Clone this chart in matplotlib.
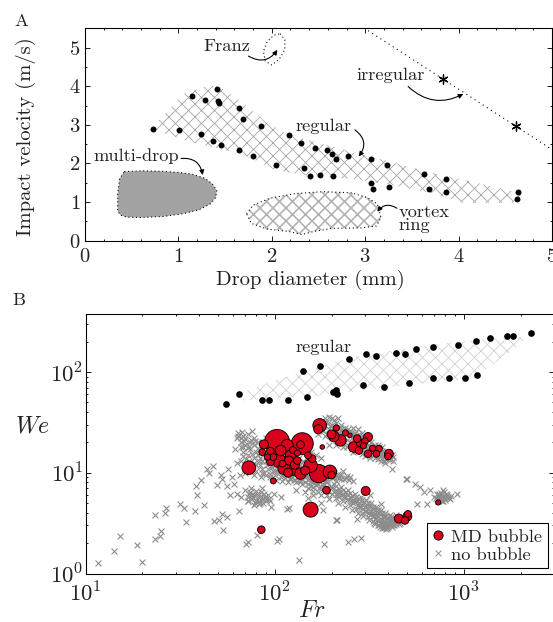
import numpy as np
import matplotlib
matplotlib.use('Agg')
import matplotlib.pyplot as plt
from matplotlib.patches import Polygon
from matplotlib.ticker import AutoMinorLocator, MultipleLocator

plt.rcParams['font.family'] = 'serif'
plt.rcParams['font.serif'] = ['cmr10']
plt.rcParams['mathtext.fontset'] = 'cm'
plt.rcParams['axes.formatter.use_mathtext'] = True

DPI = 78

# ---------------- panel A data (drop diameter mm, impact velocity m/s)
reg_d = [0.73, 1.01, 1.15, 1.24, 1.28, 1.37, 1.41, 1.42, 1.44, 1.46, 1.65, 1.65, 1.69, 1.80, 1.88,
         2.05, 2.18, 2.31, 2.35, 2.41, 2.46, 2.52, 2.59, 2.64, 2.65, 2.69, 2.82, 3.06, 3.06, 3.08,
         3.23, 3.25, 3.63, 3.68, 3.87, 3.87, 4.62, 4.64]
reg_v = [2.90, 2.86, 3.75, 2.75, 3.65, 2.59, 3.93, 3.61, 3.57, 2.49, 3.44, 2.35, 3.16, 2.19, 2.98,
         1.95, 2.74, 2.53, 1.88, 1.67, 2.40, 1.70, 2.34, 2.25, 1.67, 2.12, 2.19, 2.12, 1.49, 1.33,
         1.97, 1.39, 1.73, 1.33, 1.61, 1.25, 1.09, 1.27]

irr_d = [3.83, 4.61]
irr_v = [4.19, 2.97]

band_a_d = [0.72, 1.05, 1.33, 1.45, 1.66, 1.95, 2.19, 2.73, 3.23, 3.69, 4.19, 4.68,
            4.58, 4.05, 3.73, 3.27, 2.87, 2.40, 2.05, 1.68, 1.40, 1.10, 0.85]
band_a_v = [2.92, 3.80, 4.02, 3.98, 3.62, 3.05, 2.74, 2.38, 2.07, 1.77, 1.50, 1.22,
            0.98, 0.98, 1.22, 1.45, 1.60, 1.68, 1.82, 2.25, 2.40, 2.58, 2.78]

md_d = [0.42, 0.60, 0.80, 1.00, 1.15, 1.28, 1.36, 1.41, 1.40, 1.34, 1.22, 1.05, 0.85, 0.60,
        0.45, 0.38, 0.35, 0.35, 0.37]
md_v = [1.79, 1.81, 1.80, 1.77, 1.72, 1.62, 1.48, 1.30, 1.12, 0.95, 0.80, 0.70, 0.63, 0.60,
        0.61, 0.66, 0.78, 1.20, 1.60]

vr_d = [1.73, 1.80, 1.98, 2.25, 2.55, 2.85, 3.02, 3.13, 3.17, 3.12, 2.95, 2.65, 2.45, 2.32,
        2.18, 1.95, 1.78]
vr_v = [0.70, 0.92, 1.10, 1.22, 1.27, 1.24, 1.12, 0.95, 0.60, 0.38, 0.33, 0.32, 0.24, 0.16,
        0.24, 0.30, 0.45]

franz_d = [2.09, 2.14, 2.14, 2.08, 2.00, 1.93, 1.91, 1.95, 2.02]
franz_v = [5.36, 5.20, 4.95, 4.70, 4.55, 4.65, 4.90, 5.15, 5.32]

# ---------------- panel B data (Fr, We)
regB_fr = [55.6, 64.9, 85.3, 93.9, 117.8, 141.6, 148.5, 173.3, 204, 212, 214.8, 247.5, 295, 304,
           344, 378, 436, 490, 513, 557, 688, 688, 833, 927, 1011, 1160, 1169, 1384, 1685, 1818, 2255]
regB_we = [48.4, 59.9, 53.2, 53.2, 53.2, 101.4, 56, 113.6, 63.3, 66.7, 60.9, 133.4, 73.6, 149.7,
           142.9, 71, 155.6, 152, 77.8, 167.6, 177, 87.2, 87.2, 186.6, 87.2, 204.6, 93.4, 217.6,
           225.7, 225.7, 243.8]

band_b_fr = [68, 72, 93, 142, 260, 611, 1290, 2170, 1720, 1118, 496, 170]
band_b_we = [52, 66, 78, 102, 140, 182, 212, 224, 152, 86, 74, 58]

# MD bubble: Fr, We, bubble radius (px)
md_fr = [103, 87.8, 140, 137, 73, 98.4, 155, 85, 188, 303, 733, 454, 503, 489, 507,
         95, 107.6, 91.5, 98.4, 116.6, 121.5, 119, 131.8, 105.4, 112, 124, 131.8, 137, 155,
         158, 150, 171, 196, 200, 95, 110, 128, 145, 118, 125, 86,
         173, 170, 212, 205.6, 223, 200, 237, 250, 273, 312, 262, 283, 295, 279, 312, 345,
         356, 402, 398, 330, 178.6, 300]
md_we = [20.2, 19.1, 19.4, 19.0, 11.2, 8.3, 4.3, 2.72, 6.7, 6.6, 5.07, 3.5, 3.68, 3.36, 3.9,
         16.4, 16.6, 14.3, 14.3, 18.7, 14.9, 13.2, 15.7, 13.2, 11.0, 11.0, 13.2, 9.8, 11.8,
         13.8, 14.9, 9.8, 10.2, 9.5, 12.8, 12.3, 12.0, 10.5, 10.0, 16.8, 16.0,
         29.5, 27.0, 27.8, 22.9, 20.9, 24.0, 24.8, 23.5, 21.8, 22.6, 18.0, 19.7, 18.5, 16.6,
         15.4, 15.4, 17.3, 15.4, 14.5, 17.5, 18.0, 20.5]
md_r = [12.5, 4.5, 11, 3.8, 6.8, 3, 7.5, 3.8, 3.8, 4.5, 2.6, 4.5, 4.5, 3.8, 3.4,
        3.8, 5.3, 3.1, 3.4, 6, 5.3, 4.5, 3.1, 6.8, 6, 6.8, 3.8, 5.7, 6.8,
        3.8, 3.4, 9.2, 6.8, 3.8, 3.8, 3.4, 4.5, 4.5, 4.5, 3.4, 3.4,
        6.8, 4.5, 3.1, 5.3, 5.7, 4.5, 3.1, 2.3, 3.8, 4.5, 5.3, 3.8, 3.1, 3.8,
        3.8, 3.4, 3.4, 4.5, 3.4, 3.1, 2.3, 3.4]

# no bubble
nob_sparse = [(11.7, 1.28), (14.2, 1.69), (15.2, 2.35), (18.8, 1.9), (19.8, 1.3), (23.2, 3.77),
              (23.2, 2.21), (24.8, 2.33), (25.2, 2.63), (26.2, 4.0), (26.6, 4.5), (31.6, 4.9),
              (33.2, 4.5), (33.9, 3.24), (37.9, 4.13), (38.3, 7.4), (39.1, 5.96), (41, 8.5),
              (42.4, 4.8), (43.8, 11), (45, 10), (47.5, 11.7), (47.8, 3.3), (49.8, 7.5),
              (50.8, 3.36), (52, 9.6), (53, 3.92), (53.6, 2.72), (53, 8.7), (55.7, 3.63),
              (56.2, 7.4), (57, 11), (58, 6.05), (59.8, 9.1), (61, 7.8), (63.5, 12.5), (63.5, 6.2),
              (64.8, 4.2), (65.5, 9.5), (66, 5.7), (70.8, 1.97), (72, 2.05), (72, 5.3), (81, 2.42),
              (82.6, 4.9), (86, 7.0), (95, 5.3), (95.4, 4.56), (99, 6.2), (103, 2.1), (105, 2.18),
              (107.6, 5.7), (116.6, 4.4), (119, 4.46), (134.5, 1.35), (130, 6.8), (145, 6.5),
              (150, 5.6), (160, 6.0), (175, 5.0), (180, 4.3), (183, 1.97), (210, 3.4), (214, 3.36),
              (244, 2.06), (262, 2.2), (285, 2.25), (274, 3.5), (320, 5.95), (363, 4.9), (380, 3.6),
              (410, 3.6), (394, 13.8), (417, 11), (496, 8.7), (503, 8.7), (555, 7.8), (567, 4.9),
              (590, 7.2), (614, 6.4), (640, 4.9), (665, 6.7), (780, 6.7), (925, 6.2)]
nob_left = [(64, 25), (68, 23), (72, 24), (75, 21), (66, 20), (70, 19), (78, 19), (82, 20), (85, 18),
            (74, 17), (80, 16), (88, 16), (92, 17), (95, 15), (68, 16), (72, 15), (78, 14), (84, 14),
            (90, 13), (96, 13), (100, 12), (104, 13), (110, 12), (115, 11), (120, 11.5), (125, 10.5),
            (130, 10), (135, 10.5), (140, 9.5), (145, 9.8), (150, 9.2), (160, 9), (170, 8.8),
            (180, 9.2), (190, 8.5), (200, 8.8), (210, 8.2), (66, 13), (70, 12), (75, 11.5), (80, 12),
            (86, 11), (92, 11), (98, 10.5), (105, 10), (112, 10), (118, 9.5), (124, 9), (132, 9),
            (140, 8.6), (100, 18), (105, 16), (110, 17), (115, 15), (120, 16), (128, 15), (135, 14),
            (142, 13), (150, 12.5), (158, 12), (165, 11.5), (175, 11), (185, 10.8), (195, 10.5),
            (205, 10), (215, 9.7), (225, 9.5), (240, 9.2), (250, 9), (230, 10.5), (120, 20),
            (130, 18), (140, 17), (155, 16), (165, 15), (175, 14), (90, 22), (100, 21), (110, 19),
            (62, 17), (63, 22), (67, 25.5), (76, 26), (70, 10), (78, 9.5), (85, 9), (94, 9),
            (102, 8.5), (110, 8.3), (118, 8),
            (66, 22), (70, 21.5), (74, 20), (78, 22), (82, 17.5), (86, 20), (90, 18.5), (94, 19),
            (98, 16.5), (102, 15), (106, 14), (112, 14.5), (118, 13.5), (124, 13), (130, 12.5),
            (136, 12), (144, 11.5), (152, 11), (160, 10.5), (168, 10), (176, 9.8), (186, 9.6),
            (196, 9.3), (206, 9.1), (218, 8.9), (232, 8.6), (246, 8.4), (260, 8.2), (68, 18),
            (72, 17.5), (76, 15.5), (82, 15), (86, 13), (92, 14.5), (98, 12), (104, 11), (110, 10.8),
            (116, 10.5), (122, 10), (128, 9.5), (136, 9.2), (144, 9), (152, 8.6), (162, 8.4),
            (172, 8.2), (68, 14.5), (73, 13), (78, 12.5), (84, 12), (88, 10), (95, 9.8), (100, 9.5),
            (108, 9), (114, 8.8), (120, 8.6), (126, 8.4), (135, 8.2), (145, 8.0), (74, 10.5),
            (80, 10.5), (86, 10), (90, 9.5),
            (64, 23), (66, 18), (69, 20.5), (71, 13.8), (73, 18.5), (77, 12), (79, 20.5), (83, 13),
            (87, 15), (91, 12), (93, 15.5), (97, 11.5), (101, 10.3), (107, 11.5), (113, 9.6),
            (117, 12.3), (123, 11.4), (127, 10.2), (133, 11), (139, 10.2), (147, 10.4), (155, 10),
            (163, 9.6), (173, 9.4), (183, 9.9), (193, 9.7), (203, 9.5), (213, 9.0), (223, 8.6),
            (238, 8.9)]
nob_right = [(165, 30), (175, 32), (185, 35), (195, 36), (205, 33), (215, 35), (225, 30), (210, 28),
             (195, 27), (180, 26), (170, 24), (185, 23), (200, 22), (215, 24), (230, 26), (245, 27),
             (260, 28), (275, 27), (290, 25), (300, 22), (285, 21), (270, 20), (255, 22), (240, 21),
             (225, 20), (210, 19), (195, 19), (240, 18), (255, 17), (270, 16.5), (285, 17), (300, 18),
             (315, 19), (330, 17), (345, 16), (360, 17), (375, 15), (390, 14), (405, 13.5), (320, 15),
             (340, 14), (360, 14.5), (380, 13), (300, 14.5), (310, 16), (270, 23), (250, 24),
             (230, 23), (350, 19), (370, 18), (400, 16), (415, 15), (425, 13),
             (172, 28), (182, 30), (192, 31), (202, 30), (212, 31), (222, 28), (235, 28), (250, 26),
             (265, 25), (280, 24), (295, 23), (310, 21), (325, 20), (340, 19), (355, 18),
             (370, 16.5), (385, 15.5), (400, 14.5), (190, 24), (205, 25), (220, 25), (235, 24),
             (250, 20), (265, 19), (280, 18.5), (295, 19.5), (310, 17.5), (325, 16), (340, 15.5),
             (355, 15), (370, 14), (260, 16), (245, 19), (230, 18), (215, 21), (180, 29), (200, 35),
             (187, 32), (197, 29), (207, 27), (218, 27), (227, 27), (240, 25), (255, 25.5),
             (262, 23), (278, 22), (292, 21), (305, 19.5), (318, 18), (333, 18), (348, 17),
             (363, 15.8), (378, 14.5), (393, 15), (408, 14), (420, 14.2), (288, 15.5), (302, 16.5),
             (318, 14), (335, 15), (350, 13.6), (365, 13.2), (385, 12.5)]
nob_worm = [(150, 8.5), (160, 8), (170, 7.8), (180, 7.5), (190, 7.2), (200, 7), (210, 6.8), (220, 6.4),
            (230, 6.2), (240, 6), (250, 5.7), (260, 5.4), (270, 5.2), (280, 5), (290, 4.8), (300, 4.6),
            (310, 4.4), (320, 4.2), (330, 4), (340, 3.9), (350, 3.7), (360, 3.5), (370, 3.4),
            (380, 3.3), (390, 3.2), (400, 3.1), (410, 3.05), (420, 3.0), (440, 3.1), (460, 3.2),
            (470, 3.4), (170, 8.6), (190, 8), (210, 7.4), (230, 6.8), (250, 6.3), (270, 5.8),
            (290, 5.4), (310, 5.0), (330, 4.6), (350, 4.3), (370, 4.0), (390, 3.7), (410, 3.5),
            (430, 3.4), (450, 3.6), (200, 6.2), (220, 5.8), (240, 5.4), (260, 5.0), (280, 4.6),
            (300, 4.2), (320, 3.8), (340, 3.5), (360, 3.2), (380, 3.0), (400, 2.9), (360, 2.9),
            (340, 3.1), (380, 2.8), (180, 6.8), (160, 7.2), (140, 7.8), (150, 7.0), (130, 8.0),
            (155, 8.2), (165, 7.6), (175, 7.2), (185, 7.0), (195, 6.6), (205, 6.4), (215, 6.1),
            (225, 6.0), (235, 5.7), (245, 5.5), (255, 5.3), (265, 5.1), (275, 4.8), (285, 4.6),
            (295, 4.4), (305, 4.2), (315, 4.0), (325, 3.9), (335, 3.7), (345, 3.5), (355, 3.4),
            (365, 3.2), (375, 3.1), (385, 3.0), (395, 2.95), (405, 3.0), (415, 3.2), (425, 3.3),
            (435, 3.2), (445, 3.3), (455, 3.1), (370, 2.8), (390, 2.75), (350, 3.0), (330, 3.3),
            (310, 3.6), (290, 4.0), (270, 4.4), (250, 4.8), (230, 5.2), (210, 5.6), (190, 6.0),
            (170, 6.4), (185, 8.2), (205, 7.8), (225, 7.2), (245, 6.7), (265, 6.2), (285, 5.8),
            (305, 5.4), (325, 5.0), (345, 4.6), (365, 4.3), (385, 4.0), (405, 3.8), (425, 3.6),
            (440, 3.8),
            (160, 6.6), (175, 6.0), (195, 5.5), (215, 5.0), (235, 4.6), (255, 4.3), (275, 4.0),
            (295, 3.7), (315, 3.4), (335, 3.2), (355, 3.05), (375, 2.9), (395, 2.85), (415, 2.9),
            (430, 3.0), (450, 3.4), (465, 3.3), (140, 8.6), (150, 7.8), (165, 8.0), (178, 7.7),
            (198, 7.4), (218, 6.9), (238, 6.4), (258, 5.9), (278, 5.5), (298, 5.1), (318, 4.7),
            (338, 4.3), (358, 4.0), (378, 3.7), (398, 3.5), (418, 3.35), (435, 3.5), (120, 8.8),
            (128, 8.4), (138, 8.2), (155, 7.4), (172, 7.0), (192, 6.6), (212, 6.2), (232, 5.9),
            (252, 5.6), (272, 5.4), (292, 5.0), (312, 4.7), (332, 4.4), (352, 4.0), (372, 3.6),
            (392, 3.4), (412, 3.3)]
nob_blob1 = [(70, 6.8), (74, 6.4), (78, 6), (82, 5.8), (86, 5.5), (90, 5.2), (72, 5.8), (76, 5.5),
             (80, 5.2), (84, 5), (88, 6.2), (92, 6), (75, 7), (80, 6.6), (85, 6.5), (78, 4.8),
             (72, 5.2), (90, 5.5), (73, 6.1), (77, 5.7), (81, 6.2), (85, 5.9), (89, 5.8), (83, 5.3),
             (79, 5.0), (75, 6.0), (87, 5.0), (93, 5.5)]
nob_blob2 = [(700, 5.8), (720, 6.1), (740, 5.6), (760, 6.3), (780, 5.9), (800, 5.4), (820, 6.0),
             (840, 5.6), (730, 5.3), (770, 5.2), (750, 5.9), (790, 6.4), (810, 5.7), (860, 5.9),
             (720, 5.5), (710, 5.6), (730, 6.0), (750, 5.4), (770, 5.7), (790, 5.6), (810, 6.1),
             (830, 5.8), (850, 5.5), (740, 6.2), (780, 5.3)]

fig = plt.figure(figsize=(553 / DPI, 622 / DPI), dpi=DPI)
txt = '#222222'

# ======================= panel A
ax = fig.add_axes([85 / 553, (622 - 240.7) / 622, 467 / 553, 212.4 / 622])
ax.set_xlim(0, 5)
ax.set_ylim(0, 5.5)

def hatched(a, xs, ys, color, lw, hatch, face='none'):
    with plt.rc_context({'hatch.linewidth': lw}):
        p = Polygon(np.column_stack([xs, ys]), closed=True, facecolor=face,
                    edgecolor=color, lw=0, hatch=hatch, zorder=1)
        if hasattr(p, 'set_hatch_linewidth'):
            p.set_hatch_linewidth(lw)
        a.add_patch(p)

hatched(ax, band_a_d, band_a_v, '#a8a8a8', 0.8, 'xx')
hatched(ax, vr_d, vr_v, '#b2b2b2', 1.5, 'xx', face='white')
ax.add_patch(Polygon(np.column_stack([vr_d, vr_v]), closed=True, fill=False,
                     edgecolor='black', lw=1.0, ls=(0, (1, 2.5)), zorder=2))

ax.add_patch(Polygon(np.column_stack([md_d, md_v]), closed=True, facecolor='#a3a3a3',
                     edgecolor='black', lw=1.0, ls=(0, (1, 2.5)), zorder=2))
ax.add_patch(Polygon(np.column_stack([franz_d, franz_v]), closed=True, fill=False,
                     edgecolor='black', lw=1.0, ls=(0, (1, 2.5)), zorder=2))

ax.scatter(reg_d, reg_v, s=30, color='black', zorder=3, linewidths=0)

k = np.polyfit(irr_d, irr_v, 1)
xl = np.array([2.9, 5.1])
ax.plot(xl, np.polyval(k, xl), color='black', lw=1.0, ls=(0, (1, 3.5)), zorder=2)
ax.scatter(irr_d, irr_v, s=70, marker=(6, 2, 0), color='black', linewidths=1.2, zorder=3)

fs_ann = 17
ax.text(1.52, 5.04, 'Franz', fontsize=fs_ann, color=txt, ha='center', va='center')
ax.text(3.27, 4.29, 'irregular', fontsize=fs_ann, color=txt, ha='center', va='center')
ax.text(2.55, 2.95, 'regular', fontsize=fs_ann, color=txt, ha='center', va='center')
ax.text(0.55, 2.2, 'multi-drop', fontsize=fs_ann, color=txt, ha='center', va='center')
ax.text(3.36, 0.56, 'vortex\nring', fontsize=fs_ann, color=txt, ha='left', va='center',
        linespacing=0.85)

def arrow(a, tail, head, rad):
    a.annotate('', xy=head, xytext=tail,
               arrowprops=dict(arrowstyle='-|>', color='black', lw=1.0, mutation_scale=9,
                               shrinkA=0, shrinkB=0, connectionstyle='arc3,rad=%g' % rad))

arrow(ax, (1.75, 4.78), (2.06, 4.94), 0.45)
arrow(ax, (3.46, 3.99), (4.05, 3.80), 0.35)
arrow(ax, (2.89, 2.87), (2.93, 2.18), -0.5)
arrow(ax, (1.03, 2.13), (1.26, 1.70), -0.45)
arrow(ax, (3.34, 0.84), (3.13, 0.75), 0.45)

ax.xaxis.set_major_locator(MultipleLocator(1))
ax.yaxis.set_major_locator(MultipleLocator(1))
ax.xaxis.set_minor_locator(AutoMinorLocator(5))
ax.yaxis.set_minor_locator(AutoMinorLocator(2))
ax.tick_params(which='both', direction='in', top=True, right=True, labelsize=19,
               labelcolor=txt, width=0.8)
ax.tick_params(axis='x', which='both', pad=7)
ax.tick_params(axis='y', which='both', pad=4)
ax.tick_params(which='major', length=4.5)
ax.tick_params(which='minor', length=2.3)
ax.set_xlabel('Drop diameter (mm)', fontsize=19, color=txt, va='center')
ax.set_ylabel('Impact velocity (m/s)', fontsize=19, color=txt, va='center', ha='center')
ax.xaxis.set_label_coords(0.482, -0.185)
ax.yaxis.set_label_coords(-0.126, 0.488)
for s in ax.spines.values():
    s.set_linewidth(1.0)

# ======================= panel B
bx = fig.add_axes([85.5 / 553, (622 - 573.5) / 622, 468.5 / 553, 260 / 622])
bx.set_xscale('log')
bx.set_yscale('log')
bx.set_xlim(10, 3000)
bx.set_ylim(1, 380)

hatched(bx, band_b_fr, band_b_we, '#d2d2d2', 0.8, 'xx')

bx.scatter(regB_fr, regB_we, s=38, color='black', linewidths=0, zorder=3)

nob = np.array(nob_sparse + nob_left + nob_right + nob_worm + nob_blob1 + nob_blob2)
bx.scatter(nob[:, 0], nob[:, 1], s=30, marker='x', color='#8c8c8c', linewidths=1.0, zorder=2)

sizes = (2 * np.array(md_r) * 72 / DPI) ** 2
order = np.argsort(-np.array(md_r))
bx.scatter(np.array(md_fr)[order], np.array(md_we)[order], s=sizes[order], color='#d8001c',
           edgecolors='black', linewidths=0.8, zorder=4)

bx.text(181, 174, 'regular', fontsize=fs_ann, color=txt, ha='center', va='center')

h1, = bx.plot([], [], ls='none', marker='o', markersize=8.5, markerfacecolor='#d8001c',
              markeredgecolor='black', markeredgewidth=0.8)
h2, = bx.plot([], [], ls='none', marker='x', markersize=5, color='#8c8c8c', markeredgewidth=0.9)
leg = bx.legend([h1, h2], ['MD bubble', 'no bubble'], loc='lower right',
                bbox_to_anchor=(0.987, 0.021), borderaxespad=0, fontsize=17, frameon=True,
                fancybox=False, framealpha=1, edgecolor='black', handlelength=0.6,
                handletextpad=0.45, labelspacing=0.1, borderpad=0.3)
leg.get_frame().set_linewidth(1.0)
for t in leg.get_texts():
    t.set_color(txt)

bx.tick_params(which='both', direction='in', top=True, right=True, labelsize=21,
               labelcolor=txt, width=0.8)
bx.tick_params(which='major', length=4.5)
bx.tick_params(which='minor', length=2.3)
bx.tick_params(axis='x', which='both', pad=7)
bx.tick_params(axis='y', which='both', pad=2)
bx.set_xlabel('$Fr$', fontsize=22, color=txt, va='center')
bx.set_ylabel('$We$', fontsize=22, color=txt, rotation=0, va='center', ha='center')
bx.xaxis.set_label_coords(0.483, -0.145)
bx.yaxis.set_label_coords(-0.114, 0.565)
for s in bx.spines.values():
    s.set_linewidth(1.0)

fig.text(21 / 553, 1 - 21 / 622, 'A', fontsize=17, color=txt, ha='center', va='center')
fig.text(19 / 553, 1 - 300 / 622, 'B', fontsize=17, color=txt, ha='center', va='center')

fig.savefig('out.png', dpi=DPI)
